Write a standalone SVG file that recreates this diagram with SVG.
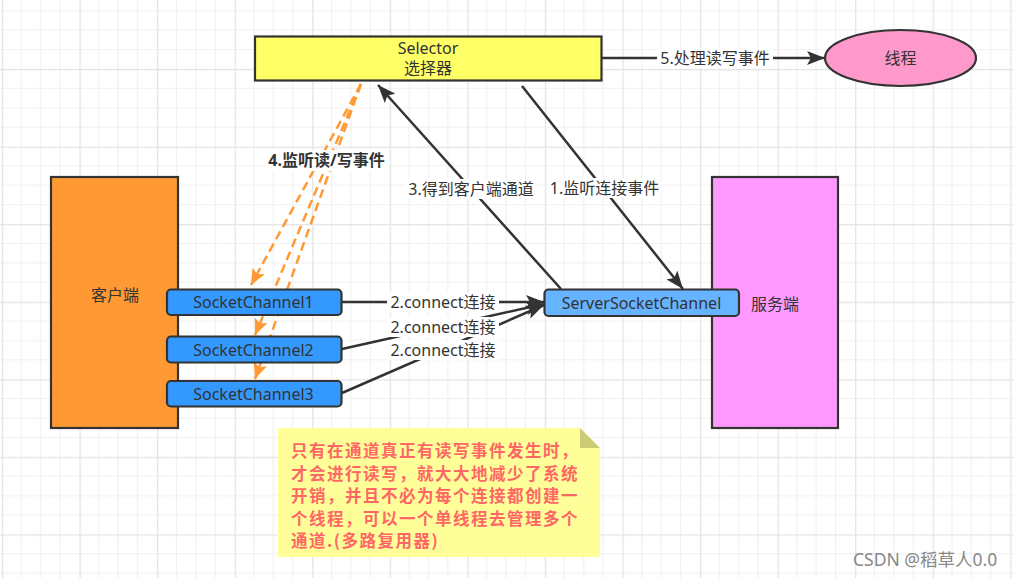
<svg xmlns="http://www.w3.org/2000/svg" width="1014" height="578" viewBox="0 0 1014 578">
<style>
text{font-family:"Noto Sans","Noto Sans CJK SC",sans-serif;font-size:16px;fill:#333}
.box{stroke:#333;stroke-width:2.2}
.ln{stroke:#333;stroke-width:2.5;fill:none}
.or{stroke:#ff9933;stroke-width:2.5;fill:none;stroke-dasharray:9 5}
.lb{fill:#fff}
.note{font-family:"Noto Sans CJK SC",sans-serif;font-size:16.5px;font-weight:bold;fill:#ff6666;letter-spacing:1.5px}
</style>
<defs>
<pattern id="grid" width="77.56" height="77.56" patternUnits="userSpaceOnUse" x="1.9" y="-8.56">
<path d="M19.39 0V77.56M38.78 0V77.56M58.17 0V77.56M0 19.39H77.56M0 38.78H77.56M0 58.17H77.56" stroke="#f0f0f0" stroke-width="1.2" fill="none"/>
<path d="M0.6 0V77.56M0 0.6H77.56" stroke="#e4e4e4" stroke-width="1.4" fill="none"/>
</pattern>
<marker id="ah" markerUnits="userSpaceOnUse" markerWidth="20" markerHeight="14" refX="18" refY="7" orient="auto">
<path d="M0 0L18 7L0 14L4 7Z" fill="#333"/>
</marker>
<marker id="ao" markerUnits="userSpaceOnUse" markerWidth="18" markerHeight="14" refX="16" refY="7" orient="auto">
<path d="M0 0L16 7L0 14L3.5 7Z" fill="#ff9933" stroke="none"/>
</marker>
</defs>
<rect width="1014" height="578" fill="#fff"/>
<rect width="1014" height="578" fill="url(#grid)"/>

<g id="connectors">
<line class="ln" x1="601" y1="58" x2="825" y2="58" marker-end="url(#ah)"/>
<line class="ln" x1="522" y1="86" x2="683" y2="289" marker-end="url(#ah)"/>
<line class="ln" x1="561" y1="289" x2="378" y2="85" marker-end="url(#ah)"/>
<line class="ln" x1="342" y1="302" x2="544" y2="302" marker-end="url(#ah)"/>
<line class="ln" x1="342" y1="349" x2="544" y2="304" marker-end="url(#ah)"/>
<line class="ln" x1="342" y1="393" x2="544" y2="305" marker-end="url(#ah)"/>
<line class="or" x1="361" y1="84" x2="251" y2="285" marker-end="url(#ao)"/>
<line class="or" x1="361" y1="84" x2="255" y2="335" marker-end="url(#ao)"/>
<line class="or" x1="361" y1="84" x2="255" y2="379" marker-end="url(#ao)"/>

<rect class="lb" x="657" y="48" width="116" height="20"/>
<text x="715" y="64" text-anchor="middle">5.处理读写事件</text>
<rect class="lb" x="548" y="178" width="113" height="20"/>
<text x="604.5" y="194" text-anchor="middle">1.监听连接事件</text>
<rect class="lb" x="406" y="179" width="130" height="20"/>
<text x="471" y="195" text-anchor="middle">3.得到客户端通道</text>
<rect class="lb" x="265" y="150" width="123" height="21"/>
<text x="326.5" y="166" text-anchor="middle" font-weight="bold" fill="#000">4.监听读/写事件</text>
<rect class="lb" x="387" y="292" width="112" height="20"/>
<text x="443" y="308" text-anchor="middle">2.connect连接</text>
<rect class="lb" x="387" y="317" width="112" height="20"/>
<text x="443" y="333" text-anchor="middle">2.connect连接</text>
<rect class="lb" x="387" y="340" width="112" height="20"/>
<text x="443" y="356" text-anchor="middle">2.connect连接</text>
</g>

<g id="selector">
<rect class="box" x="255" y="36.5" width="346.5" height="44" fill="#ffff66"/>
<text x="428" y="53.5" text-anchor="middle">Selector</text>
<text x="428" y="74" text-anchor="middle">选择器</text>
</g>

<g id="thread">
<ellipse class="box" cx="900.5" cy="58" rx="75.5" ry="28" fill="#ff99cc"/>
<text x="900.5" y="64" text-anchor="middle">线程</text>
</g>

<g id="client">
<rect class="box" x="51" y="177" width="127" height="251" fill="#ff9933"/>
<text x="115" y="301" text-anchor="middle">客户端</text>
</g>

<g id="server">
<rect class="box" x="712" y="177" width="126" height="251" fill="#ff99ff"/>
<text x="775" y="310" text-anchor="middle">服务端</text>
</g>

<g id="socketchannel1">
<rect class="box" x="167" y="289.5" width="174.5" height="25.5" rx="4" fill="#3399ff"/>
<text x="253.5" y="308" text-anchor="middle">SocketChannel1</text>
</g>
<g id="socketchannel2">
<rect class="box" x="167" y="336.5" width="174.5" height="26" rx="4" fill="#3399ff"/>
<text x="253.5" y="355.5" text-anchor="middle">SocketChannel2</text>
</g>
<g id="socketchannel3">
<rect class="box" x="167" y="381" width="174.5" height="25.5" rx="4" fill="#3399ff"/>
<text x="253.5" y="400" text-anchor="middle">SocketChannel3</text>
</g>

<g id="serversocketchannel">
<rect class="box" x="544.5" y="289.5" width="194.5" height="26.5" rx="4" fill="#66b3ff"/>
<text x="641.5" y="308.5" text-anchor="middle">ServerSocketChannel</text>
</g>

<g id="note">
<path d="M278 428H580L600 448V557H278Z" fill="#ffff99"/>
<path d="M580 428L600 448H580Z" fill="#cccc77"/>
<text class="note" x="291" y="457">只有在通道真正有读写事件发生时，</text>
<text class="note" x="291" y="479.5">才会进行读写，就大大地减少了系统</text>
<text class="note" x="291" y="502">开销，并且不必为每个连接都创建一</text>
<text class="note" x="291" y="524.5">个线程，可以一个单线程去管理多个</text>
<text class="note" x="291" y="547">通道.(多路复用器)</text>
</g>

<text x="853" y="566" style="fill:#888;font-size:17.5px">CSDN @稻草人0.0</text>
</svg>
